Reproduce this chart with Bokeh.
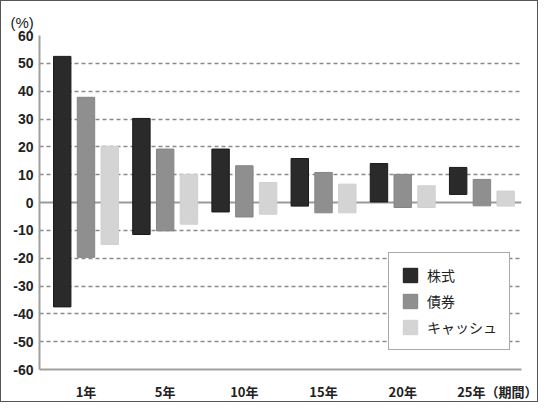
from bokeh.plotting import figure
from bokeh.models import (ColumnDataSource, Range1d, FixedTicker, Span,
                          Legend, LegendItem)
from bokeh.transform import dodge
from bokeh.embed import file_html
from bokeh.resources import INLINE

categories = ["1年", "5年", "10年", "15年", "20年", "25年"]
stock_high = [52.5, 30.2, 19.2, 15.8, 14.0, 12.6]
stock_low = [-37.5, -11.5, -3.4, -1.3, 0.2, 2.9]
bond_high = [37.8, 19.2, 13.2, 10.8, 10.1, 8.3]
bond_low = [-19.7, -10.2, -5.2, -3.7, -1.8, -1.2]
cash_high = [20.2, 10.1, 7.2, 6.6, 6.0, 4.1]
cash_low = [-15.1, -7.8, -4.2, -3.7, -1.8, -1.3]
y_ticks = list(range(-60, 61, 10))
series_names = ["株式", "債券", "キャッシュ"]
unit_label = "(%)"
period_label = "（期間）"

FONT = "Noto Sans CJK JP"
NUMFONT = "Liberation Sans"
TXT = "#222222"

n = len(categories)
src = ColumnDataSource(dict(
    x=list(range(n)),
    sh=stock_high, sl=stock_low,
    bh=bond_high, bl=bond_low,
    ch=cash_high, cl=cash_low,
))

p = figure(width=538, height=402, output_backend="svg", toolbar_location=None,
           x_range=Range1d(-0.587, 5.5), y_range=Range1d(-60, 60),
           min_border_left=38, min_border_right=18, min_border_top=34,
           min_border_bottom=32, background_fill_color="white",
           border_fill_color="white")
p.outline_line_color = None
p.styles = {"border": "1.5px solid #555", "box-sizing": "border-box"}

# "(%)" unit as a left-aligned title
p.title.text = unit_label
p.title.align = "left"
p.title.offset = -29
p.title.standoff = 10
p.title.text_font = NUMFONT
p.title.text_font_size = "15px"
p.title.text_font_style = "normal"
p.title.text_color = TXT

# grid
p.xgrid.visible = False
p.ygrid.ticker = FixedTicker(ticks=[t for t in y_ticks if t not in (0, -60)])
p.ygrid.grid_line_color = "#8a8a8a"
p.ygrid.grid_line_dash = "4 3"
p.ygrid.grid_line_width = 1.3
zero = Span(location=0, dimension="width", line_color="#9a9a9a", line_width=2,
            level="underlay")
p.add_layout(zero)

bw = 0.22
colors = ["#2a2a2a", "#8f8f8f", "#d4d4d4"]
outlines = ["#1a1a1a", "#858585", "#d0d0d0"]
r1 = p.vbar(x=dodge("x", -0.30, range=p.x_range), width=bw, top="sh", bottom="sl",
            source=src, fill_color=colors[0], line_color=outlines[0], line_width=1)
r2 = p.vbar(x=dodge("x", 0.0, range=p.x_range), width=bw, top="bh", bottom="bl",
            source=src, fill_color=colors[1], line_color=outlines[1], line_width=1)
r3 = p.vbar(x=dodge("x", 0.30, range=p.x_range), width=bw, top="ch", bottom="cl",
            source=src, fill_color=colors[2], line_color=outlines[2], line_width=1)

# axes
p.yaxis.ticker = FixedTicker(ticks=y_ticks)
p.yaxis.major_label_overrides = {t: str(t) for t in y_ticks}
p.yaxis.major_tick_line_color = None
p.yaxis.minor_tick_line_color = None
p.yaxis.major_tick_out = 0
p.yaxis.major_tick_in = 0
p.yaxis.minor_tick_out = 0
p.yaxis.axis_line_color = "#a0a0a0"
p.yaxis.axis_line_width = 2
p.yaxis.major_label_standoff = 6
p.yaxis.major_label_text_font = NUMFONT
p.yaxis.major_label_text_font_size = "14px"
p.yaxis.major_label_text_font_style = "bold"
p.yaxis.major_label_text_color = TXT

# x ticks: group positions, with the last label carrying the period unit
x_ticks = list(range(n))
x_ticks[-1] = n - 1 + 0.22
labels = list(categories)
labels[-1] = categories[-1] + period_label
p.xaxis.ticker = FixedTicker(ticks=x_ticks)
p.xaxis.major_label_overrides = {t: l for t, l in zip(x_ticks, labels)}
p.xaxis.major_tick_line_color = None
p.xaxis.minor_tick_line_color = None
p.xaxis.major_tick_out = 0
p.xaxis.major_tick_in = 0
p.xaxis.minor_tick_out = 0
p.xaxis.axis_line_color = "#a0a0a0"
p.xaxis.axis_line_width = 2
p.xaxis.major_label_standoff = 12
p.xaxis.major_label_text_font = FONT
p.xaxis.major_label_text_font_size = "13px"
p.xaxis.major_label_text_font_style = "bold"
p.xaxis.major_label_text_color = TXT

legend = Legend(items=[LegendItem(label=series_names[0], renderers=[r1]),
                       LegendItem(label=series_names[1], renderers=[r2]),
                       LegendItem(label=series_names[2], renderers=[r3])],
                location=(349, 19), glyph_width=18, glyph_height=18,
                spacing=6, padding=12, margin=0, label_standoff=8,
                label_text_font=FONT, label_text_font_size="14px",
                label_text_color=TXT, border_line_color="#555",
                border_line_width=1, background_fill_color="white",
                background_fill_alpha=1.0, label_height=18)
p.add_layout(legend)

open("out.html", "w").write(file_html(p, INLINE))
